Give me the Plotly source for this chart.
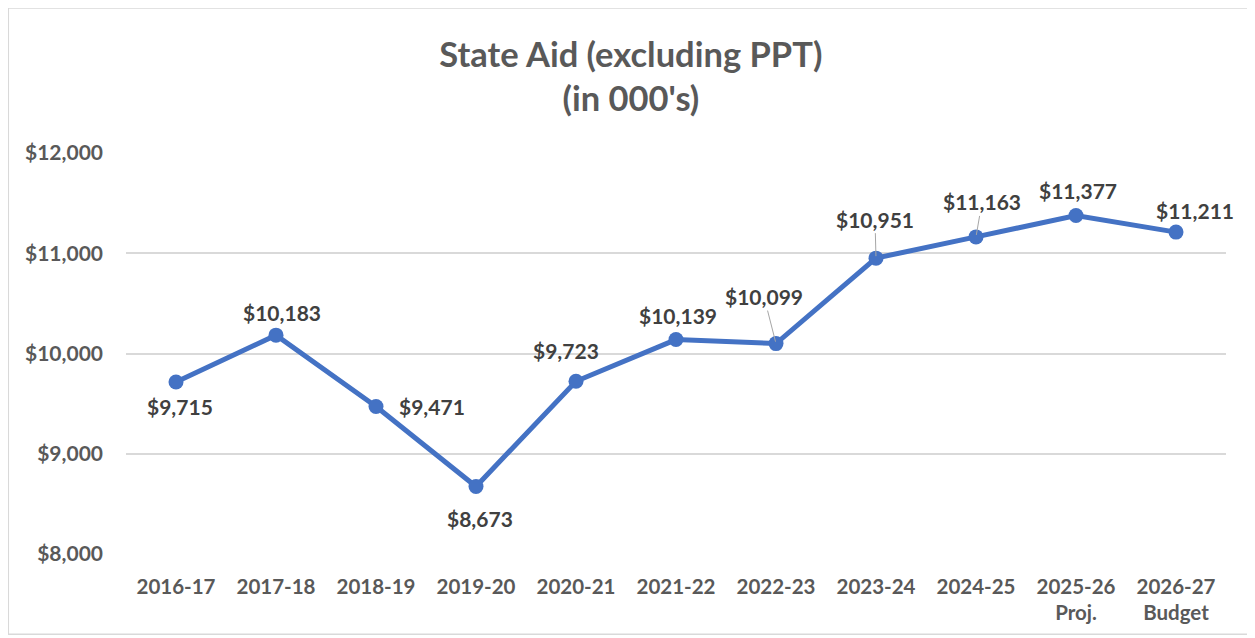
import plotly.graph_objects as go

categories = ["2016-17", "2017-18", "2018-19", "2019-20", "2020-21", "2021-22",
              "2022-23", "2023-24", "2024-25", "2025-26", "2026-27"]
tick_labels = ["2016-17", "2017-18", "2018-19", "2019-20", "2020-21", "2021-22",
               "2022-23", "2023-24", "2024-25", "2025-26<br>Proj.", "2026-27<br>Budget"]
state_aid = [9715, 10183, 9471, 8673, 9723, 10139, 10099, 10951, 11163, 11377, 11211]
y_ticks = [8000, 9000, 10000, 11000, 12000]

# label offsets in pixels (style only): (xshift, yshift, leader)
label_pos = [(4, -24, False), (6, 23, False), (56, 0, False), (4, -32, False),
             (-10, 31, False), (2, 24, False), (-12, 47, True), (-1, 39, True),
             (6, 35, True), (2, 25, False), (19, 22, False)]

FONT = "Lato"
GRAY = "#595959"

fig = go.Figure()
fig.add_trace(go.Scatter(
    x=list(range(len(categories))), y=state_aid, mode="lines+markers",
    line=dict(color="#4472C4", width=5),
    marker=dict(color="#4472C4", size=15),
    hoverinfo="skip",
))

annotations = []
for i, v in enumerate(state_aid):
    dx, dy, leader = label_pos[i]
    txt = f"<b>${v:,}</b>"
    if leader:
        annotations.append(dict(x=i, y=v, xref="x", yref="y", text=txt,
                                showarrow=True, arrowhead=0, arrowwidth=1,
                                arrowcolor="#A6A6A6", ax=dx, ay=-dy, standoff=2,
                                font=dict(family=FONT, size=21, color="#404040")))
    else:
        annotations.append(dict(x=i, y=v, xref="x", yref="y", text=txt,
                                showarrow=False, xshift=dx, yshift=dy,
                                font=dict(family=FONT, size=21, color="#404040")))

fig.update_layout(
    width=1247, height=630,
    margin=dict(l=118, r=29, t=145, b=84),
    paper_bgcolor="white", plot_bgcolor="white",
    showlegend=False,
    title=dict(text="<b>State Aid (excluding PPT)<br>(in 000's)</b>",
               x=0.4995, xanchor="center", y=0.907, yanchor="top",
               font=dict(family=FONT, size=34.5, color=GRAY)),
    xaxis=dict(range=[-0.5, len(categories) - 0.5],
               tickmode="array", tickvals=list(range(len(categories))),
               ticktext=[f"<b>{t}</b>" for t in tick_labels],
               showgrid=False, zeroline=False, showline=False, ticks="",
               ticklabelstandoff=18,
               tickfont=dict(family=FONT, size=20.5, color=GRAY)),
    yaxis=dict(range=[8000, 12000], tickvals=y_ticks,
               ticktext=[f"<b>${t:,}</b>" for t in y_ticks],
               showgrid=True, gridcolor="#D9D9D9", gridwidth=1.5,
               zeroline=False, showline=False, ticks="", ticklabelstandoff=22,
               tickfont=dict(family=FONT, size=21, color=GRAY)),
    annotations=annotations,
    shapes=[dict(type="rect", xref="paper", yref="paper",
                 x0=-0.107, x1=1.0236, y0=-0.2, y1=1.3616,
                 line=dict(color="#D9D9D9", width=1.5))],
)

fig.write_html("out.html")
